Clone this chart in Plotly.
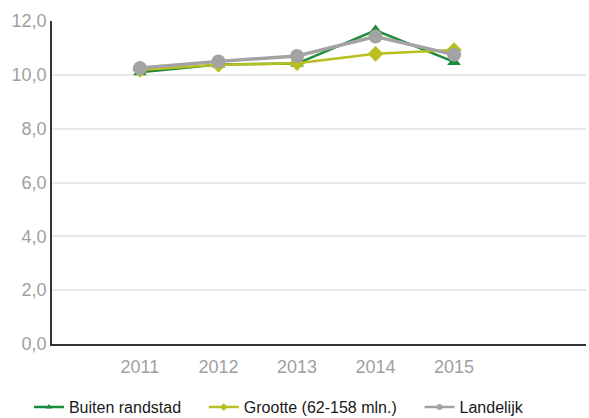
import plotly.graph_objects as go

years = ["2011", "2012", "2013", "2014", "2015"]
buiten_randstad = [10.1, 10.38, 10.42, 11.65, 10.48]
grootte = [10.18, 10.37, 10.43, 10.78, 10.92]
landelijk = [10.25, 10.5, 10.7, 11.42, 10.75]

series_names = ["Buiten randstad", "Grootte (62-158 mln.)", "Landelijk"]
series_values = [buiten_randstad, grootte, landelijk]
series_colors = ["#1b8a3a", "#b8bf1f", "#a3a3a3"]
series_symbols = ["triangle-up", "diamond", "circle"]
marker_sizes = [12, 12, 14]
line_widths = [2.5, 2.5, 3.5]

y_ticks = [0, 2, 4, 6, 8, 10, 12]

fig = go.Figure()
for name, vals, col, sym, msize, lw in zip(series_names, series_values, series_colors,
                                           series_symbols, marker_sizes, line_widths):
    fig.add_trace(go.Scatter(
        x=years, y=vals, name=name, mode="lines+markers", showlegend=False,
        line=dict(color=col, width=lw),
        marker=dict(symbol=sym, size=msize, color=col),
    ))

# legend entries with small symbols; non-breaking spaces widen the gap between items
for i, (name, col, sym) in enumerate(zip(series_names, series_colors, series_symbols)):
    label = name + ("\u00a0" * 4 if i < len(series_names) - 1 else "")
    fig.add_trace(go.Scatter(
        x=[None], y=[None], name=label, mode="lines+markers",
        line=dict(color=col, width=2.5),
        marker=dict(symbol=sym, size=6, color=col),
    ))

fig.update_layout(
    width=589, height=418,
    margin=dict(l=52, r=3, t=21, b=74, autoexpand=False),
    paper_bgcolor="white", plot_bgcolor="white",
    font=dict(family="Liberation Sans, Arial, sans-serif", size=18, color="#a0a0a0"),
    separators=",.",
    showlegend=True,
    legend=dict(
        orientation="h", x=0.425, xanchor="center",
        yref="container", y=0.026, yanchor="middle",
        font=dict(size=16, color="#1a1a1a"), traceorder="normal",
    ),
    xaxis=dict(
        type="category", range=[-1.12, 5.68], automargin=False,
        showgrid=False, showline=True, linecolor="#333333", linewidth=1.5,
        ticks="", ticklabelstandoff=6, tickfont=dict(size=18, color="#a0a0a0"),
    ),
    yaxis=dict(
        range=[0, 12], tickvals=y_ticks, tickformat=".1f", automargin=False,
        showgrid=True, gridcolor="#e8e8e8", gridwidth=1.5,
        showline=True, linecolor="#333333", linewidth=1.5,
        zeroline=False, ticks="", tickfont=dict(size=18, color="#a0a0a0"),
    ),
)

fig.write_html("out.html")
